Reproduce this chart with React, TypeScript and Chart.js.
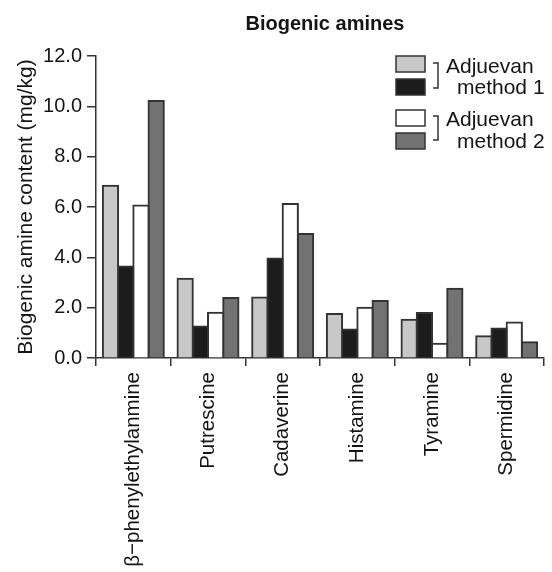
import React, { useEffect, useRef } from "react";
import { Chart, registerables } from "chart.js";

Chart.register(...registerables);

const categories = ["β−phenylethylanmine", "Putrescine", "Cadaverine", "Histamine", "Tyramine", "Spermidine"];
const method1A = [6.84, 3.15, 2.4, 1.75, 1.52, 0.86];
const method1B = [3.64, 1.25, 3.95, 1.13, 1.79, 1.17];
const method2A = [6.06, 1.8, 6.12, 2.0, 0.57, 1.41];
const method2B = [10.21, 2.38, 4.93, 2.26, 2.75, 0.63];
const seriesLabels = ["Adjuevan method 1 (a)", "Adjuevan method 1 (b)", "Adjuevan method 2 (a)", "Adjuevan method 2 (b)"];
const seriesColors = ["#c8c8c8", "#1c1c1c", "#ffffff", "#727272"];
const yTicks = [0, 2, 4, 6, 8, 10, 12];
const chartTitle = "Biogenic amines";
const yTitle = "Biogenic amine content (mg/kg)";
const legendLines = [
  ["Adjuevan", "method 1"],
  ["Adjuevan", "method 2"],
];

const FONT = "'Liberation Sans', Arial, sans-serif";
const INK = "#151515";
const LINE = "#333333";

const overlayPlugin = {
  id: "overlay",
  afterDraw(chart: any) {
    const ctx = chart.ctx;
    ctx.save();
    ctx.fillStyle = INK;
    ctx.font = `bold 20px ${FONT}`;
    ctx.textAlign = "center";
    ctx.textBaseline = "alphabetic";
    ctx.fillText(chartTitle, 325, 29.5);

    const boxX = 396;
    const boxW = 29;
    const boxH = 16;
    const boxTops = [56, 79, 110, 133];
    chart.data.datasets.forEach((ds: any, i: number) => {
      ctx.fillStyle = ds.backgroundColor;
      ctx.fillRect(boxX, boxTops[i], boxW, boxH);
      ctx.strokeStyle = LINE;
      ctx.lineWidth = 1.5;
      ctx.strokeRect(boxX, boxTops[i], boxW, boxH);
    });
    ctx.strokeStyle = LINE;
    ctx.lineWidth = 1.5;
    const brackets = [
      [63, 88],
      [116, 140],
    ];
    brackets.forEach(([t, b]) => {
      ctx.beginPath();
      ctx.moveTo(433, t);
      ctx.lineTo(438, t);
      ctx.lineTo(438, b);
      ctx.lineTo(433, b);
      ctx.stroke();
    });
    ctx.fillStyle = INK;
    ctx.font = `21px ${FONT}`;
    ctx.textAlign = "left";
    const baselines = [
      [72.5, 94],
      [126, 148],
    ];
    legendLines.forEach((pair, i) => {
      ctx.fillText(pair[0], 446, baselines[i][0]);
      ctx.fillText(pair[1], 457, baselines[i][1]);
    });
    ctx.restore();
  },
};

export default function App() {
  const ref = useRef<HTMLCanvasElement | null>(null);
  useEffect(() => {
    if (!ref.current) return;
    const seriesData = [method1A, method1B, method2A, method2B];
    const chart = new Chart(ref.current, {
      type: "bar",
      data: {
        labels: categories,
        datasets: seriesData.map((d, i) => ({
          label: seriesLabels[i],
          data: d,
          backgroundColor: seriesColors[i],
          borderColor: LINE,
          borderWidth: 2,
          inflateAmount: 1,
          categoryPercentage: 0.816,
          barPercentage: 1,
        })),
      },
      options: {
        responsive: false,
        animation: false,
        devicePixelRatio: 1,
        layout: { padding: { top: 56, right: 8, left: 0, bottom: 0 } },
        plugins: {
          legend: { display: false },
          title: { display: false },
          tooltip: { enabled: false },
        },
        scales: {
          x: {
            type: "category",
            grid: {
              display: true,
              drawOnChartArea: false,
              drawTicks: true,
              tickLength: 8,
              offset: true,
              color: LINE,
              lineWidth: 1.5,
            },
            border: { display: true, color: LINE, width: 1.5 },
            ticks: {
              autoSkip: false,
              maxRotation: 90,
              minRotation: 90,
              padding: 6,
              color: INK,
              font: { family: FONT, size: 20.5 },
            },
            afterFit(scale: any) {
              scale.height = 572 - 358;
            },
          },
          y: {
            min: 0,
            max: 12,
            afterBuildTicks(scale: any) {
              scale.ticks = yTicks.map((v) => ({ value: v }));
            },
            grid: {
              display: true,
              drawOnChartArea: false,
              drawTicks: true,
              tickLength: 9,
              color: LINE,
              lineWidth: 1.5,
            },
            border: { display: true, color: LINE, width: 1.5 },
            ticks: {
              padding: 5,
              color: INK,
              font: { family: FONT, size: 20 },
              callback: (v: any) => Number(v).toFixed(1),
            },
            title: {
              display: true,
              text: yTitle,
              color: INK,
              font: { family: FONT, size: 21 },
              padding: { top: 14, bottom: 0 },
            },
            afterFit(scale: any) {
              scale.width = 96;
            },
          },
        },
      },
      plugins: [overlayPlugin],
    });
    return () => chart.destroy();
  }, []);
  return (
    <div style={{ position: "fixed", left: 0, top: 0, width: 552, height: 572, background: "#fff" }}>
      <canvas ref={ref} width={552} height={572} style={{ width: 552, height: 572, display: "block" }} />
    </div>
  );
}
